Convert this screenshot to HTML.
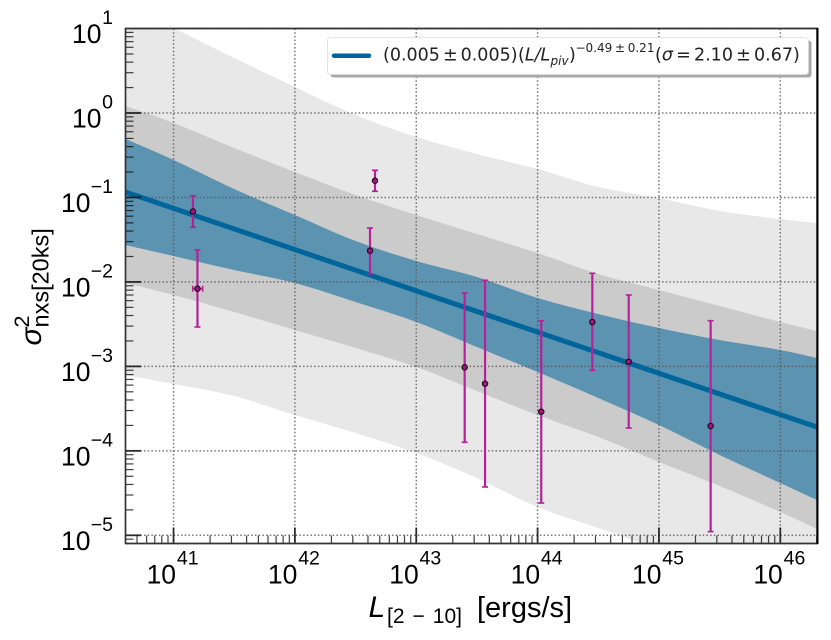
<!DOCTYPE html>
<html>
<head>
<meta charset="utf-8">
<title>Excess variance vs luminosity</title>
<style>
html,body{margin:0;padding:0;background:#fff;width:831px;height:640px;overflow:hidden}
svg{display:block}
text{font-family:"Liberation Sans",sans-serif;fill:#000}
text.dv{font-family:"DejaVu Sans",sans-serif;fill:#222}
</style>
</head>
<body>
<svg id="chart" xmlns="http://www.w3.org/2000/svg" width="831" height="640" viewBox="0 0 831 640">
  <defs>
    <clipPath id="plot-clip"><rect x="125.5" y="28.5" width="692" height="515"/></clipPath>
  </defs>
  <g id="bands" clip-path="url(#plot-clip)"></g>
  <g id="grid"></g>
  <g id="fit" clip-path="url(#plot-clip)"></g>
  <g id="points"></g>
  <g id="ticks"></g>
  <g id="spines">
    <line x1="125.5" y1="28" x2="125.5" y2="544" stroke="#333" stroke-width="1.7"/>
    <line x1="125" y1="543.5" x2="818" y2="543.5" stroke="#333" stroke-width="1.7"/>
    <line x1="125" y1="28.5" x2="818" y2="28.5" stroke="#333" stroke-width="1.7"/>
    <line x1="817.4" y1="28" x2="817.4" y2="544" stroke="#000" stroke-width="2.2"/>
  </g>
  <g id="tick-labels"></g>

  <g>
    <rect x="330.5" y="40.5" width="481" height="37" rx="3" fill="#a8a8a8"/>
    <rect x="327.5" y="37.5" width="481" height="37" rx="3" fill="#fff" stroke="#ddd" stroke-width="0.8"/>
    <line x1="334" y1="55.7" x2="369" y2="55.7" stroke="#00659b" stroke-width="4.5" stroke-linecap="round"/>
    <g>
      <text class="dv" x="383" y="60.7" font-size="17.5">(0.005<tspan dx="3">±</tspan><tspan dx="3">0.005)</tspan></text>
      <text class="dv" x="518" y="60.7" font-size="17.5">(<tspan font-style="italic">L/L</tspan></text>
      <text class="dv" x="550.5" y="65" font-size="12" font-style="italic">piv</text>
      <text class="dv" x="569" y="60.7" font-size="17.5">)</text>
      <text class="dv" x="575.5" y="52" font-size="12">−0.49<tspan dx="2.7">±</tspan><tspan dx="2.7">0.21</tspan></text>
      <text class="dv" x="655" y="60.7" font-size="17.5">(<tspan font-style="italic">σ</tspan><tspan dx="3.2">=</tspan><tspan dx="3.2">2.10</tspan><tspan dx="3.2">±</tspan><tspan dx="3.2">0.67)</tspan></text>
    </g>
  </g>

  <g>
    <text x="368.5" y="617" font-size="30" font-style="italic">L</text>
    <text x="387" y="623" font-size="21">[2<tspan dx="8">−</tspan><tspan dx="8">10]</tspan></text>
    <text x="477" y="617" font-size="29">[ergs/s]</text>
  </g>
  <g>
    <text transform="translate(41,345.5) rotate(-90)" font-size="30" font-style="italic">σ</text>
    <text transform="translate(29,327.5) rotate(-90)" font-size="21.5">2</text>
    <text transform="translate(48.5,327.5) rotate(-90)" font-size="23.5">nxs[20ks]</text>
  </g>
</svg>
<script>
// log10 luminosity sample positions for the bands
const bandLogL = [40.604, 41, 41.5, 42, 42.5, 43, 43.5, 44, 44.5, 45, 45.5, 46, 46.302];
// log10 variance band edges
const light2Upper = [1.291, 1.006, 0.651, 0.308, -0.024, -0.284, -0.485, -0.663, -0.876, -1.006, -1.160, -1.255, -1.302];
const light2Lower = [-3.102, -3.209, -3.351, -3.576, -3.789, -4.026, -4.322, -4.665, -4.914, -5.174, -5.470, -5.766, -5.944];
const mid2Upper = [0.083, -0.118, -0.414, -0.699, -0.971, -1.208, -1.433, -1.658, -1.906, -2.096, -2.285, -2.475, -2.581];
const mid2Lower = [-2.013, -2.155, -2.356, -2.569, -2.782, -3.007, -3.292, -3.576, -3.836, -4.132, -4.416, -4.724, -4.925];
const blueUpper = [-0.308, -0.556, -0.900, -1.208, -1.516, -1.752, -1.942, -2.190, -2.380, -2.546, -2.688, -2.806, -2.901];
const blueLower = [-1.563, -1.693, -1.859, -2.013, -2.238, -2.475, -2.771, -3.067, -3.374, -3.694, -4.049, -4.381, -4.582];
// fit line endpoints
const fitLogL = [40.604, 46.302];
const fitLogV = [-0.935, -3.718];
// data points
const pointLogL = [41.16, 41.197, 42.66, 42.619, 43.399, 43.567, 44.03, 44.451, 44.751, 45.426];
const pointLogLLow = [41.16, 41.158, 42.66, 42.619, 43.399, 43.567, 44.03, 44.451, 44.751, 45.426];
const pointLogLHigh = [41.16, 41.24, 42.66, 42.619, 43.399, 43.567, 44.03, 44.451, 44.751, 45.426];
const pointLogV = [-1.166, -2.08, -0.802, -1.63, -3.011, -3.205, -3.537, -2.475, -2.945, -3.706];
const pointLogVHigh = [-0.979, -1.622, -0.678, -1.362, -2.131, -1.981, -2.459, -1.898, -2.155, -2.459];
const pointLogVLow = [-1.353, -2.534, -0.927, -1.903, -3.899, -4.428, -4.618, -3.046, -3.73, -4.957];
// tick labels
const xTickExps = [41, 42, 43, 44, 45, 46];
const yTickExps = [1, 0, -1, -2, -3, -4, -5];
const minorFactors = [2, 3, 4, 5, 6, 7, 8, 9];

const NS = 'http://www.w3.org/2000/svg';
const L = 125.5, R = 817.5, T = 28.5, B = 543.5;
function sx(v) { return 173.55 + (v - 41) * 121.35; }
function sy(v) { return 113 - v * 84.46; }
function mk(tag, parentId, attrs) {
  const e = document.createElementNS(NS, tag);
  for (const k in attrs) e.setAttribute(k, attrs[k]);
  document.getElementById(parentId).appendChild(e);
  return e;
}
// smooth edge through the sampled values (Catmull-Rom to Bezier)
function curve(pts, start) {
  let d = (start ? 'M' : 'L') + pts[0][0].toFixed(1) + ' ' + pts[0][1].toFixed(1);
  for (let i = 0; i < pts.length - 1; i++) {
    const p0 = pts[Math.max(i - 1, 0)], p1 = pts[i], p2 = pts[i + 1], p3 = pts[Math.min(i + 2, pts.length - 1)];
    const c1x = p1[0] + (p2[0] - p0[0]) / 6, c1y = p1[1] + (p2[1] - p0[1]) / 6;
    const c2x = p2[0] - (p3[0] - p1[0]) / 6, c2y = p2[1] - (p3[1] - p1[1]) / 6;
    d += 'C' + c1x.toFixed(1) + ' ' + c1y.toFixed(1) + ' ' + c2x.toFixed(1) + ' ' + c2y.toFixed(1) + ' ' + p2[0].toFixed(1) + ' ' + p2[1].toFixed(1);
  }
  return d;
}
function bandPath(up, lo) {
  const top = bandLogL.map(function (x, i) { return [sx(x), sy(up[i])]; });
  const bot = bandLogL.map(function (x, i) { return [sx(x), sy(lo[i])]; }).reverse();
  return curve(top, true) + curve(bot, false) + 'Z';
}

// bands
let el = mk('path', 'bands', { d: bandPath(light2Upper, light2Lower), fill: '#e8e8e8' });


el = mk('path', 'bands', { d: bandPath(mid2Upper, mid2Lower), fill: '#cbcbcb' });


el = mk('path', 'bands', { d: bandPath(blueUpper, blueLower), fill: '#5b93b1' });



// grid
xTickExps.forEach(function (e) {
  const g = mk('line', 'grid', { x1: sx(e), x2: sx(e), y1: T, y2: B, stroke: '#555', 'stroke-opacity': 0.8, 'stroke-width': 1.5, 'stroke-dasharray': '1.5 2.2' });
  
  
});
yTickExps.forEach(function (e) {
  const g = mk('line', 'grid', { x1: L, x2: R, y1: sy(e), y2: sy(e), stroke: '#555', 'stroke-opacity': 0.8, 'stroke-width': 1.5, 'stroke-dasharray': '1.5 2.2' });
  
  
});

// fit
el = mk('line', 'fit', { x1: sx(fitLogL[0]), y1: sy(fitLogV[0]), x2: sx(fitLogL[1]), y2: sy(fitLogV[1]), stroke: '#00659b', 'stroke-width': 5 });



// points
const ERR = '#b5219a';
pointLogL.forEach(function (x, i) {
  const px = sx(x), py = sy(pointLogV[i]), t = sy(pointLogVHigh[i]), b = sy(pointLogVLow[i]);
  const v = mk('line', 'points', { x1: px, x2: px, y1: t, y2: b, stroke: ERR, 'stroke-width': 2.2 });
  
  
  const c1 = mk('line', 'points', { x1: px - 3, x2: px + 3, y1: t, y2: t, stroke: ERR, 'stroke-width': 1.6 });
  
  
  const c2 = mk('line', 'points', { x1: px - 3, x2: px + 3, y1: b, y2: b, stroke: ERR, 'stroke-width': 1.6 });
  
  
  if (pointLogLLow[i] !== pointLogLHigh[i]) {
    const xl = sx(pointLogLLow[i]), xh = sx(pointLogLHigh[i]);
    const h = mk('line', 'points', { x1: xl, x2: xh, y1: py, y2: py, stroke: ERR, 'stroke-width': 1.8 });
    
    
    const c3 = mk('line', 'points', { x1: xl, x2: xl, y1: py - 3, y2: py + 3, stroke: ERR, 'stroke-width': 1.6 });
    
    
    const c4 = mk('line', 'points', { x1: xh, x2: xh, y1: py - 3, y2: py + 3, stroke: ERR, 'stroke-width': 1.6 });
    
    
  }
  const m = mk('circle', 'points', { cx: px, cy: py, r: 2.7, fill: '#a3127f', stroke: '#1c0a1c', 'stroke-width': 1.1 });
  
  
});

// ticks
const TICK = '#111';
for (let e = 40; e <= 46; e++) {
  minorFactors.forEach(function (f) {
    const v = e + Math.log10(f);
    if (sx(v) <= L + 0.5 || sx(v) >= R - 0.5) return;
    const t = mk('line', 'ticks', { x1: sx(v), x2: sx(v), y1: B, y2: B - 8, stroke: TICK, 'stroke-opacity': 0.8, 'stroke-width': 1.2 });
    
    
  });
}
for (let e = -6; e <= 0; e++) {
  minorFactors.forEach(function (f) {
    const v = e + Math.log10(f);
    if (sy(v) >= B - 0.5 || sy(v) <= T + 0.5) return;
    const t = mk('line', 'ticks', { x1: L, x2: L + 8, y1: sy(v), y2: sy(v), stroke: TICK, 'stroke-opacity': 0.8, 'stroke-width': 1.2 });
    
    
  });
}
xTickExps.forEach(function (e) {
  const t = mk('line', 'ticks', { x1: sx(e), x2: sx(e), y1: B, y2: B - 16, stroke: TICK, 'stroke-opacity': 0.85, 'stroke-width': 1.8 });
  
  
  const a = mk('text', 'tick-labels', { x: sx(e) + 2.5, y: 583.3, 'font-size': 26.5, 'text-anchor': 'end' });
  a.textContent = '10';
  
  
  const b = mk('text', 'tick-labels', { x: sx(e) + 3.3, y: 564.3, 'font-size': 19.5 });
  b.textContent = String(e);
  
  
});
yTickExps.forEach(function (e) {
  if (e < 1) {
    const t = mk('line', 'ticks', { x1: L, x2: L + 15.5, y1: sy(e), y2: sy(e), stroke: TICK, 'stroke-opacity': 0.85, 'stroke-width': 1.8 });
    
    
  }
  const neg = e < 0;
  const a = mk('text', 'tick-labels', { x: neg ? 90.5 : 101.5, y: sy(e) + 14.7, 'font-size': 26.5, 'text-anchor': 'end' });
  a.textContent = '10';
  
  
  const b = mk('text', 'tick-labels', { x: 113, y: sy(e) - 4.5, 'font-size': 19.5, 'text-anchor': 'end' });
  b.textContent = neg ? '\u2212' + Math.abs(e) : String(e);
  
  
});
</script>
</body>
</html>
